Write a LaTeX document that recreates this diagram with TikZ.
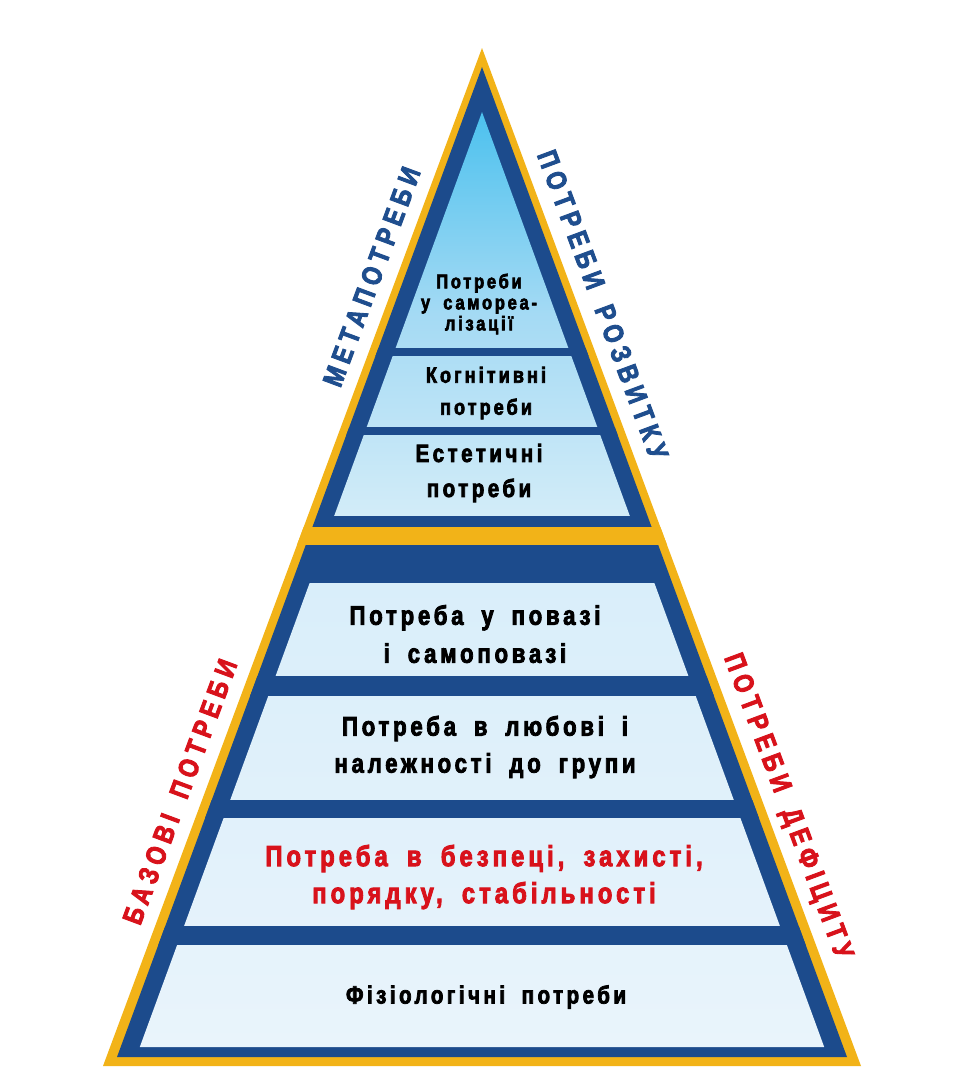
\documentclass[tikz,border=0pt]{standalone}
\usepackage{fontspec}
\newfontfamily\cf[FakeStretch=0.82,LetterSpace=14.0,WordSpace=1.8,BoldFeatures={FakeBold=3}]{Liberation Sans}
\newfontfamily\sidefont[FakeStretch=0.82,LetterSpace=20.0,WordSpace=1.6,BoldFeatures={FakeBold=3}]{Liberation Sans}
\definecolor{gold}{HTML}{F2B318}
\definecolor{navy}{HTML}{1C4B8C}
\definecolor{sky}{HTML}{4CC1EE}
\definecolor{skymid}{HTML}{A4DAF4}
\definecolor{skylt}{HTML}{D2ECF8}
\definecolor{bandtop}{HTML}{D9EEFA}
\definecolor{bandbot}{HTML}{E9F4FB}
\definecolor{redt}{HTML}{D8121B}
\definecolor{navyt}{HTML}{1F4E8E}
\tikzset{
  lvl/.style={align=center, text=black, inner sep=0pt},
  side/.style={inner sep=0pt, anchor=base, font=\sidefont\bfseries\fontsize{28}{28}\selectfont}
}
\begin{document}
\begin{tikzpicture}[x=1pt,y=-1pt]
\useasboundingbox (0,0) rectangle (979,1088);
\fill[white] (0,0) rectangle (979,1088);
% outer gold and blue triangles
\fill[gold] (482,48) -- (861,1066) -- (103,1066) -- cycle;
\fill[navy] (482,67) -- (847,1057) -- (117,1057) -- cycle;
% light interior
\begin{scope}
  \clip (482,112) -- (824.2,1047) -- (139.8,1047) -- cycle;
  \shade[top color=sky, bottom color=skylt, middle color=skymid] (0,112) rectangle (979,515);
  \shade[top color=bandtop, bottom color=bandbot] (0,583) rectangle (979,1047);
\end{scope}
% blue separator bars
\begin{scope}
  \clip (482,67) -- (847,1057) -- (117,1057) -- cycle;
  \fill[navy] (0,348) rectangle (979,356);
  \fill[navy] (0,427) rectangle (979,435);
  \fill[navy] (0,676) rectangle (979,696);
  \fill[navy] (0,800) rectangle (979,818);
  \fill[navy] (0,926) rectangle (979,945);
\end{scope}
% gold band
\begin{scope}
  \clip (482,48) -- (861,1066) -- (103,1066) -- cycle;
  \fill[gold] (0,527) rectangle (979,545);
\end{scope}
% level texts
\node[lvl, font=\cf\bfseries\fontsize{20}{21}\selectfont] (self) at (479,304) {Потреби\\у самореа-\\лізації};
\node[lvl, font=\cf\bfseries\fontsize{22}{32}\selectfont] (cogn) at (486,393) {Когнітивні\\потреби};
\node[lvl, font=\cf\bfseries\fontsize{25}{35}\selectfont] (aest) at (479,473) {Естетичні\\потреби};
\node[lvl, font=\cf\bfseries\fontsize{27}{38}\selectfont] (estm) at (475,634) {Потреба у повазі\\і самоповазі};
\node[lvl, font=\cf\bfseries\fontsize{27}{37}\selectfont] (love) at (485,747) {Потреба в любові і\\належності до групи};
\node[lvl, font=\cf\bfseries\fontsize{29}{37}\selectfont, text=redt] (safe) at (484,877) {Потреба в безпеці, захисті,\\порядку, стабільності};
\node[lvl, font=\cf\bfseries\fontsize{25}{25}\selectfont] (phys) at (486,997) {Фізіологічні потреби};
% side labels (baseline parallel to the outer edges)
\node[side, text=navyt, rotate=69.6] (meta) at (380.7,280.1) {МЕТАПОТРЕБИ};
\node[side, text=navyt, rotate=-69.6] (grow) at (593.8,308.1) {ПОТРЕБИ РОЗВИТКУ};
\node[side, text=redt, rotate=69.6] (basic) at (188.9,795.1) {БАЗОВІ ПОТРЕБИ};
\node[side, text=redt, rotate=-69.6] (defi) at (780.3,809.1) {ПОТРЕБИ ДЕФІЦИТУ};
\end{tikzpicture}
\end{document}
